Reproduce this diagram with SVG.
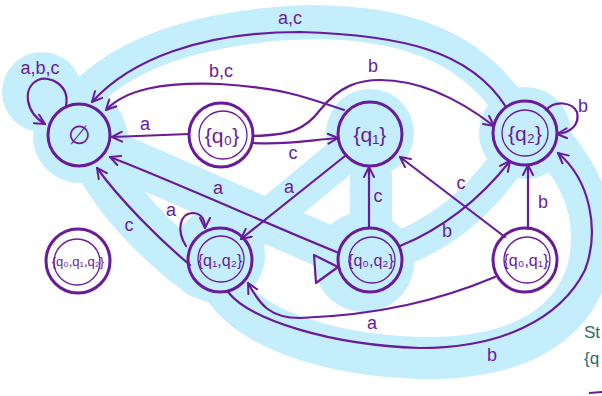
<svg xmlns="http://www.w3.org/2000/svg" width="602" height="396" viewBox="0 0 602 396">
<defs>
<style>
.hl{fill:none;stroke:#c4eefb;stroke-linecap:round;stroke-linejoin:round}
.blob{fill:#c4eefb}
.node{fill:none;stroke:#6a1b9a;stroke-width:3}
.inner{fill:none;stroke:#6a1b9a;stroke-width:1.3}
.edge{fill:none;stroke:#6a1b9a;stroke-width:2.2;stroke-linecap:round;marker-end:url(#arr)}
.nl{font-family:"Liberation Sans",Arial,sans-serif;fill:#6a1b9a;text-anchor:middle}
.el{font-family:"Liberation Sans",Arial,sans-serif;fill:#6a1b9a;font-size:18px;text-anchor:middle}
</style>
<marker id="arr" viewBox="0 0 12 12" refX="11" refY="6" markerWidth="12" markerHeight="12" markerUnits="userSpaceOnUse" orient="auto">
<path d="M1,1 L11,6 L1,11" fill="none" stroke="#6a1b9a" stroke-width="2" stroke-linecap="round" stroke-linejoin="round"/>
</marker>
</defs>
<rect width="602" height="396" fill="#ffffff"/>
<g id="highlight">
<circle class="blob" cx="42" cy="92" r="40"/>
<circle class="blob" cx="80" cy="136" r="47"/>
<path class="hl" stroke-width="34" d="M80 100 C130 45 220 25 310 22 C420 22 480 55 520 120"/>
<circle class="blob" cx="525" cy="133" r="46"/>
<circle class="blob" cx="370" cy="133" r="44"/>
<circle class="blob" cx="364" cy="262" r="50"/>
<circle class="blob" cx="218" cy="256" r="47"/>
<path class="hl" stroke-width="42" d="M371 175 L371 240"/>
<path class="hl" stroke-width="38" d="M350 150 L235 245"/>
<path class="hl" stroke-width="44" d="M105 150 L345 255"/>
<path class="hl" stroke-width="46" d="M95 160 C120 205 160 245 200 275"/>
<path class="hl" stroke-width="36" d="M385 255 C440 235 480 205 515 150"/>
<path class="hl" stroke-width="42" d="M222 285 C250 330 330 355 420 358 C510 360 570 330 588 270 C600 220 585 180 550 140"/>
</g>
<g id="connectors">
<path class="edge" d="M66 106 C70 85 50 75 38 80 C22 88 25 112 45 124"/>
<path class="edge" d="M189 134 L112 137"/>
<path class="edge" d="M344 110 C300 95 280 88 220 84 C160 82 125 90 106 110"/>
<path class="edge" d="M506 107 C470 50 400 35 300 32 C200 32 130 60 92 102"/>
<path class="edge" d="M253 143 C290 145 310 140 338 138"/>
<path class="edge" d="M253 136 C290 135 305 130 320 110 C340 85 360 80 380 80 C420 80 460 100 494 126"/>
<path class="edge" d="M546 110 C555 100 572 102 577 112 C580 125 570 133 557 134"/>
<path class="edge" d="M345 156 L241 239"/>
<path class="edge" d="M339 253 C270 225 170 180 110 157"/>
<path class="edge" d="M190 265 C160 240 120 200 97 168"/>
<path class="edge" d="M186 246 C176 230 180 214 192 213 C200 213 205 218 205 228"/>
<path class="edge" d="M369 228 L369 167"/>
<path class="edge" d="M505 237 L400 157"/>
<path class="edge" d="M400 246 C440 230 480 200 510 161"/>
<path class="edge" d="M528 229 L528 165"/>
<path class="edge" d="M495 277 C440 300 380 315 300 318 C270 318 260 305 248 283"/>
<path class="edge" d="M228 292 C250 320 330 345 420 348 C500 348 560 320 585 270 C600 230 590 180 558 153"/>
<polygon points="314,255 316,283 338,267" fill="none" stroke="#6a1b9a" stroke-width="2.2" stroke-linejoin="round"/>
</g>
<g id="labels">
<text class="el" x="40" y="74">a,b,c</text>
<text class="el" x="145" y="130">a</text>
<text class="el" x="221" y="77">b,c</text>
<text class="el" x="290" y="24">a,c</text>
<text class="el" x="293" y="159">c</text>
<text class="el" x="373" y="72">b</text>
<text class="el" x="583" y="112">b</text>
<text class="el" x="289" y="193">a</text>
<text class="el" x="218" y="194">a</text>
<text class="el" x="129" y="231">c</text>
<text class="el" x="171" y="216">a</text>
<text class="el" x="378" y="202">c</text>
<text class="el" x="461" y="189">c</text>
<text class="el" x="447" y="237">b</text>
<text class="el" x="543" y="208">b</text>
<text class="el" x="372" y="329">a</text>
<text class="el" x="492" y="361">b</text>
</g>
<g id="n-empty"><circle class="node" cx="79" cy="135" r="31"/><text class="nl" x="79" y="144" font-size="26">∅</text></g>
<g id="n-q0"><circle class="node" cx="221" cy="135" r="32"/><circle class="inner" cx="223" cy="135" r="24"/><text class="nl" x="222" y="143" font-size="21">{q₀}</text></g>
<g id="n-q1"><circle class="node" cx="370" cy="134" r="32"/><text class="nl" x="370" y="142" font-size="21">{q₁}</text></g>
<g id="n-q2"><circle class="node" cx="525" cy="133" r="32"/><circle class="inner" cx="525" cy="133" r="23"/><text class="nl" x="525" y="141" font-size="21">{q₂}</text></g>
<g id="n-q1q2"><circle class="node" cx="220" cy="260" r="32"/><circle class="inner" cx="221" cy="259" r="23"/><text class="nl" x="220" y="266" font-size="16">{q₁,q₂}</text></g>
<g id="n-q0q1q2"><circle class="node" cx="78" cy="261" r="32"/><circle class="inner" cx="77" cy="262" r="23"/><text class="nl" x="78" y="266" font-size="13">{q₀,q₁,q₂}</text></g>
<g id="n-q0q2"><circle class="node" cx="370" cy="260" r="32"/><circle class="inner" cx="372" cy="260" r="23"/><text class="nl" x="371" y="266" font-size="16">{q₀,q₂}</text></g>
<g id="n-q0q1"><circle class="node" cx="525" cy="260" r="32"/><circle class="inner" cx="527" cy="260" r="23"/><text class="nl" x="526" y="266" font-size="16">{q₀,q₁}</text></g>
<g id="note">
<text x="584" y="338" font-family="Liberation Sans, Arial, sans-serif" font-size="17" fill="#1f6f6f">St</text>
<text x="584" y="364" font-family="Liberation Sans, Arial, sans-serif" font-size="17" fill="#1f6f6f">{q</text>
<path d="M589 393 L602 392" stroke="#6a1b9a" stroke-width="2" fill="none"/>
</g>
</svg>
